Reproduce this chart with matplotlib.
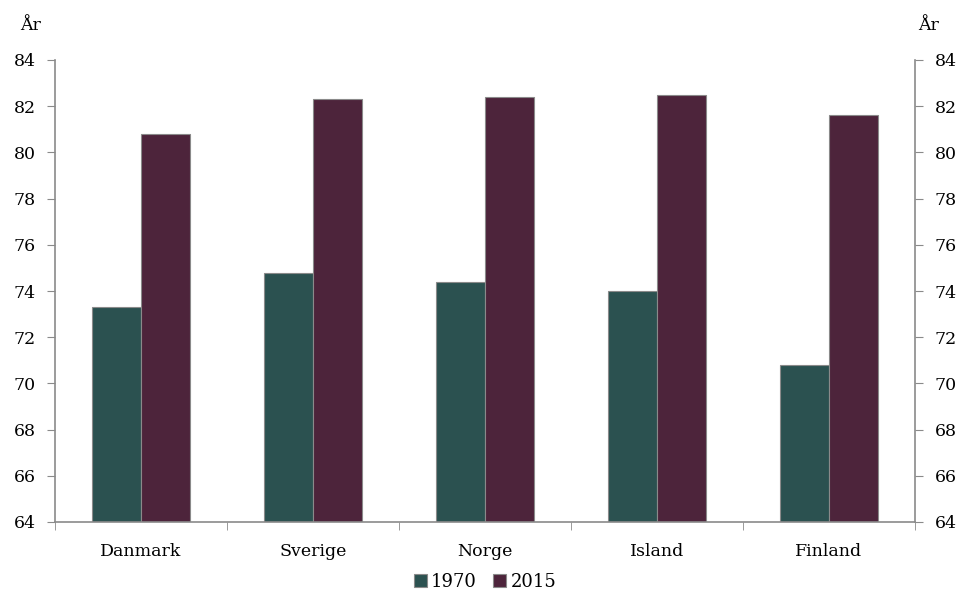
import numpy as np
import matplotlib
matplotlib.use("Agg")
import matplotlib.pyplot as plt

plt.rcParams["font.family"] = ["DejaVu Serif"]

lande = ["Danmark", "Sverige", "Norge", "Island", "Finland"]
v1970 = [73.3, 74.8, 74.4, 74.0, 70.8]
v2015 = [80.8, 82.3, 82.4, 82.5, 81.6]
yticks = list(range(64, 85, 2))

fig = plt.figure(figsize=(9.63, 5.94), dpi=100)
ax = fig.add_axes([55/963, 1-522/594, 860/963, 462/594])

x = np.arange(len(lande))
w = 0.285
ax.bar(x - w/2, np.array(v1970) - 64, w, bottom=64, color="#2b5150",
       edgecolor="#8a8a8a", linewidth=0.8, label="1970")
ax.bar(x + w/2, np.array(v2015) - 64, w, bottom=64, color="#4d243b",
       edgecolor="#8a8a8a", linewidth=0.8, label="2015")

ax.set_xlim(-0.5, len(lande) - 0.5)
ax.set_ylim(64, 84)
ax.set_yticks(yticks)
ax.set_xticks(x)
ax.set_xticklabels(lande)
ax.set_xticks(np.arange(-0.5, len(lande)), minor=True)
ax.tick_params(axis="x", which="major", length=0, pad=15, labelsize=12.5)
ax.tick_params(axis="x", which="minor", length=6, color="#8a8a8a", direction="out")
ax.tick_params(axis="y", length=6, color="#8a8a8a", direction="out",
               labelsize=12.5, left=True, right=True, labelleft=True,
               labelright=True, pad=8)

for s in ["left", "right", "bottom"]:
    ax.spines[s].set_color("#8a8a8a")
    ax.spines[s].set_linewidth(1.2)
ax.spines["top"].set_visible(False)

fig.text(20/963, 1-25/594, "År", fontsize=12.5, va="center", ha="left")
fig.text(918/963, 1-25/594, "År", fontsize=12.5, va="center", ha="left")

ax.legend(loc="upper center", bbox_to_anchor=(0.5, -0.083), ncol=2, frameon=False,
          fontsize=13, handlelength=0.7, handleheight=0.7, handletextpad=0.25,
          columnspacing=0.9, borderpad=0.2)

fig.savefig("out.png", dpi=100)
